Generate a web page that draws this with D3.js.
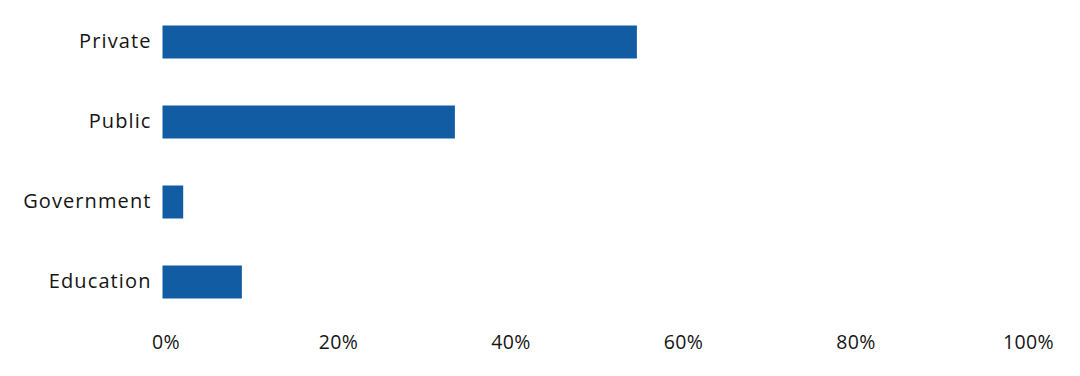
<!DOCTYPE html>
<html>
<head>
<meta charset="utf-8">
<script src="https://cdn.jsdelivr.net/npm/d3@7"></script>
<style>
  body { margin: 0; background: #fff; }
  text { font-family: "Open Sans", sans-serif; fill: #151515; }
</style>
</head>
<body>
<svg id="chart" width="1080" height="376"></svg>
<script>
const categories = ['Private', 'Public', 'Government', 'Education']
const shares = [0.55, 0.339, 0.024, 0.092]
const tickValues = [0, 0.2, 0.4, 0.6, 0.8, 1]

const svg = d3.select('#chart')
const margin = { left: 162.5, right: 55, top: 2, bottom: 54 }

const x = d3.scaleLinear()
  .domain([0, 1])
  .range([margin.left, 1025])

const y = d3.scaleBand()
  .domain(categories)
  .range([margin.top, margin.top + 320])
  .paddingInner(0.5875)
  .paddingOuter(0.29375)

svg.append('g')
  .selectAll('rect')
  .data(categories)
  .join('rect')
  .attr('x', x(0))
  .attr('y', d => y(d))
  .attr('width', (d, i) => x(shares[i]) - x(0))
  .attr('height', y.bandwidth())
  .attr('fill', '#115ca3')

// category labels
const yAxis = d3.axisLeft(y).tickSize(0).tickPadding(11)
const yAxisGroup = svg.append('g')
  .attr('transform', `translate(${margin.left}, 0)`)
  .call(yAxis)
yAxisGroup.select('.domain').remove()
yAxisGroup.selectAll('text')
  .style('font-size', '20px')
  .style('letter-spacing', '1.1px')
  .style('font-family', '"Open Sans", sans-serif')
  .attr('fill', '#151515')

// percent ticks
const xAxis = d3.axisBottom(x)
  .tickValues(tickValues)
  .tickFormat(d3.format('.0%'))
  .tickSize(0)
  .tickPadding(0)
const xAxisGroup = svg.append('g')
  .attr('transform', `translate(3, 335)`)
  .call(xAxis)
xAxisGroup.select('.domain').remove()
xAxisGroup.selectAll('text')
  .style('font-size', '19.5px')
  .style('letter-spacing', '0.4px')
  .style('font-family', '"Open Sans", sans-serif')
  .attr('fill', '#151515')
</script>
</body>
</html>
